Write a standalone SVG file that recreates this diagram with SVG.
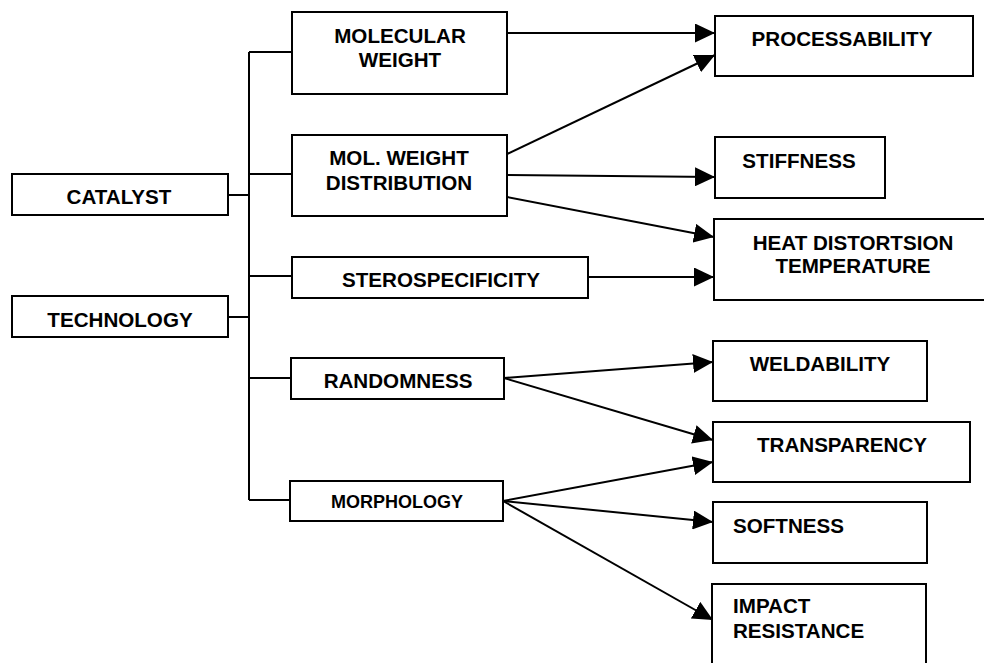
<svg xmlns="http://www.w3.org/2000/svg" width="984" height="663" viewBox="0 0 984 663">
<defs>
<style>
.box{fill:#fff;stroke:#000;stroke-width:2}
.t{font-family:"Liberation Sans",Arial,sans-serif;font-weight:bold;font-size:20.6px;fill:#000;text-anchor:middle}
.tl{text-anchor:start}
.sm{font-size:18px}
.ln{stroke:#000;stroke-width:2;fill:none}
.ar{stroke:#000;stroke-width:2;fill:none;marker-end:url(#ah)}
</style>
<marker id="ah" markerUnits="userSpaceOnUse" markerWidth="20" markerHeight="19" refX="20" refY="9.5" orient="auto">
<path d="M0,0 L20,9.5 L0,19 z" fill="#000"/>
</marker>
</defs>
<rect width="984" height="663" fill="#fff"/>
<g id="connectors">
<path class="ln" d="M228,195 H249 M228,317 H249 M249,52 V500 M249,52 H292 M249,174 H292 M249,276 H292 M249,378 H291 M249,500 H290"/>
<line class="ar" x1="507" y1="33" x2="715" y2="33"/>
<line class="ar" x1="507" y1="154" x2="715" y2="55"/>
<line class="ar" x1="507" y1="175" x2="715" y2="177"/>
<line class="ar" x1="507" y1="197" x2="714" y2="237"/>
<line class="ar" x1="588" y1="277" x2="714" y2="277"/>
<line class="ar" x1="504" y1="378" x2="713" y2="362"/>
<line class="ar" x1="504" y1="378" x2="713" y2="440"/>
<line class="ar" x1="503" y1="501" x2="713" y2="462"/>
<line class="ar" x1="503" y1="501" x2="713" y2="522"/>
<line class="ar" x1="503" y1="501" x2="713" y2="620"/>
</g>
<g id="catalyst"><rect class="box" x="12" y="174" width="216" height="41"/><text class="t" x="119" y="204">CATALYST</text></g>
<g id="technology"><rect class="box" x="12" y="296" width="216" height="41"/><text class="t" x="120" y="327">TECHNOLOGY</text></g>
<g id="molecular-weight"><rect class="box" x="292" y="12" width="215" height="82"/><text class="t" x="400" y="43">MOLECULAR</text><text class="t" x="400" y="67">WEIGHT</text></g>
<g id="mwd"><rect class="box" x="292" y="135" width="215" height="81"/><text class="t" x="399" y="165">MOL. WEIGHT</text><text class="t" x="399" y="190">DISTRIBUTION</text></g>
<g id="sterospecificity"><rect class="box" x="292" y="257" width="296" height="41"/><text class="t" x="441" y="287">STEROSPECIFICITY</text></g>
<g id="randomness"><rect class="box" x="291" y="358" width="213" height="41"/><text class="t" x="398" y="388">RANDOMNESS</text></g>
<g id="morphology"><rect class="box" x="290" y="481" width="213" height="40"/><text class="t sm" x="397" y="508">MORPHOLOGY</text></g>
<g id="processability"><rect class="box" x="715" y="16" width="258" height="60"/><text class="t" x="842" y="46">PROCESSABILITY</text></g>
<g id="stiffness"><rect class="box" x="715" y="137" width="170" height="61"/><text class="t" x="799" y="168">STIFFNESS</text></g>
<g id="hdt"><rect class="box" x="714" y="219" width="280" height="81"/><text class="t" x="853" y="250">HEAT DISTORTSION</text><text class="t" x="853" y="273">TEMPERATURE</text></g>
<g id="weldability"><rect class="box" x="713" y="341" width="214" height="60"/><text class="t" x="820" y="371">WELDABILITY</text></g>
<g id="transparency"><rect class="box" x="713" y="422" width="257" height="60"/><text class="t" x="842" y="452">TRANSPARENCY</text></g>
<g id="softness"><rect class="box" x="713" y="502" width="214" height="61"/><text class="t tl" x="733" y="533">SOFTNESS</text></g>
<g id="impact"><rect class="box" x="712" y="584" width="214" height="90"/><text class="t tl" x="733" y="613">IMPACT</text><text class="t tl" x="733" y="638">RESISTANCE</text></g>
</svg>
